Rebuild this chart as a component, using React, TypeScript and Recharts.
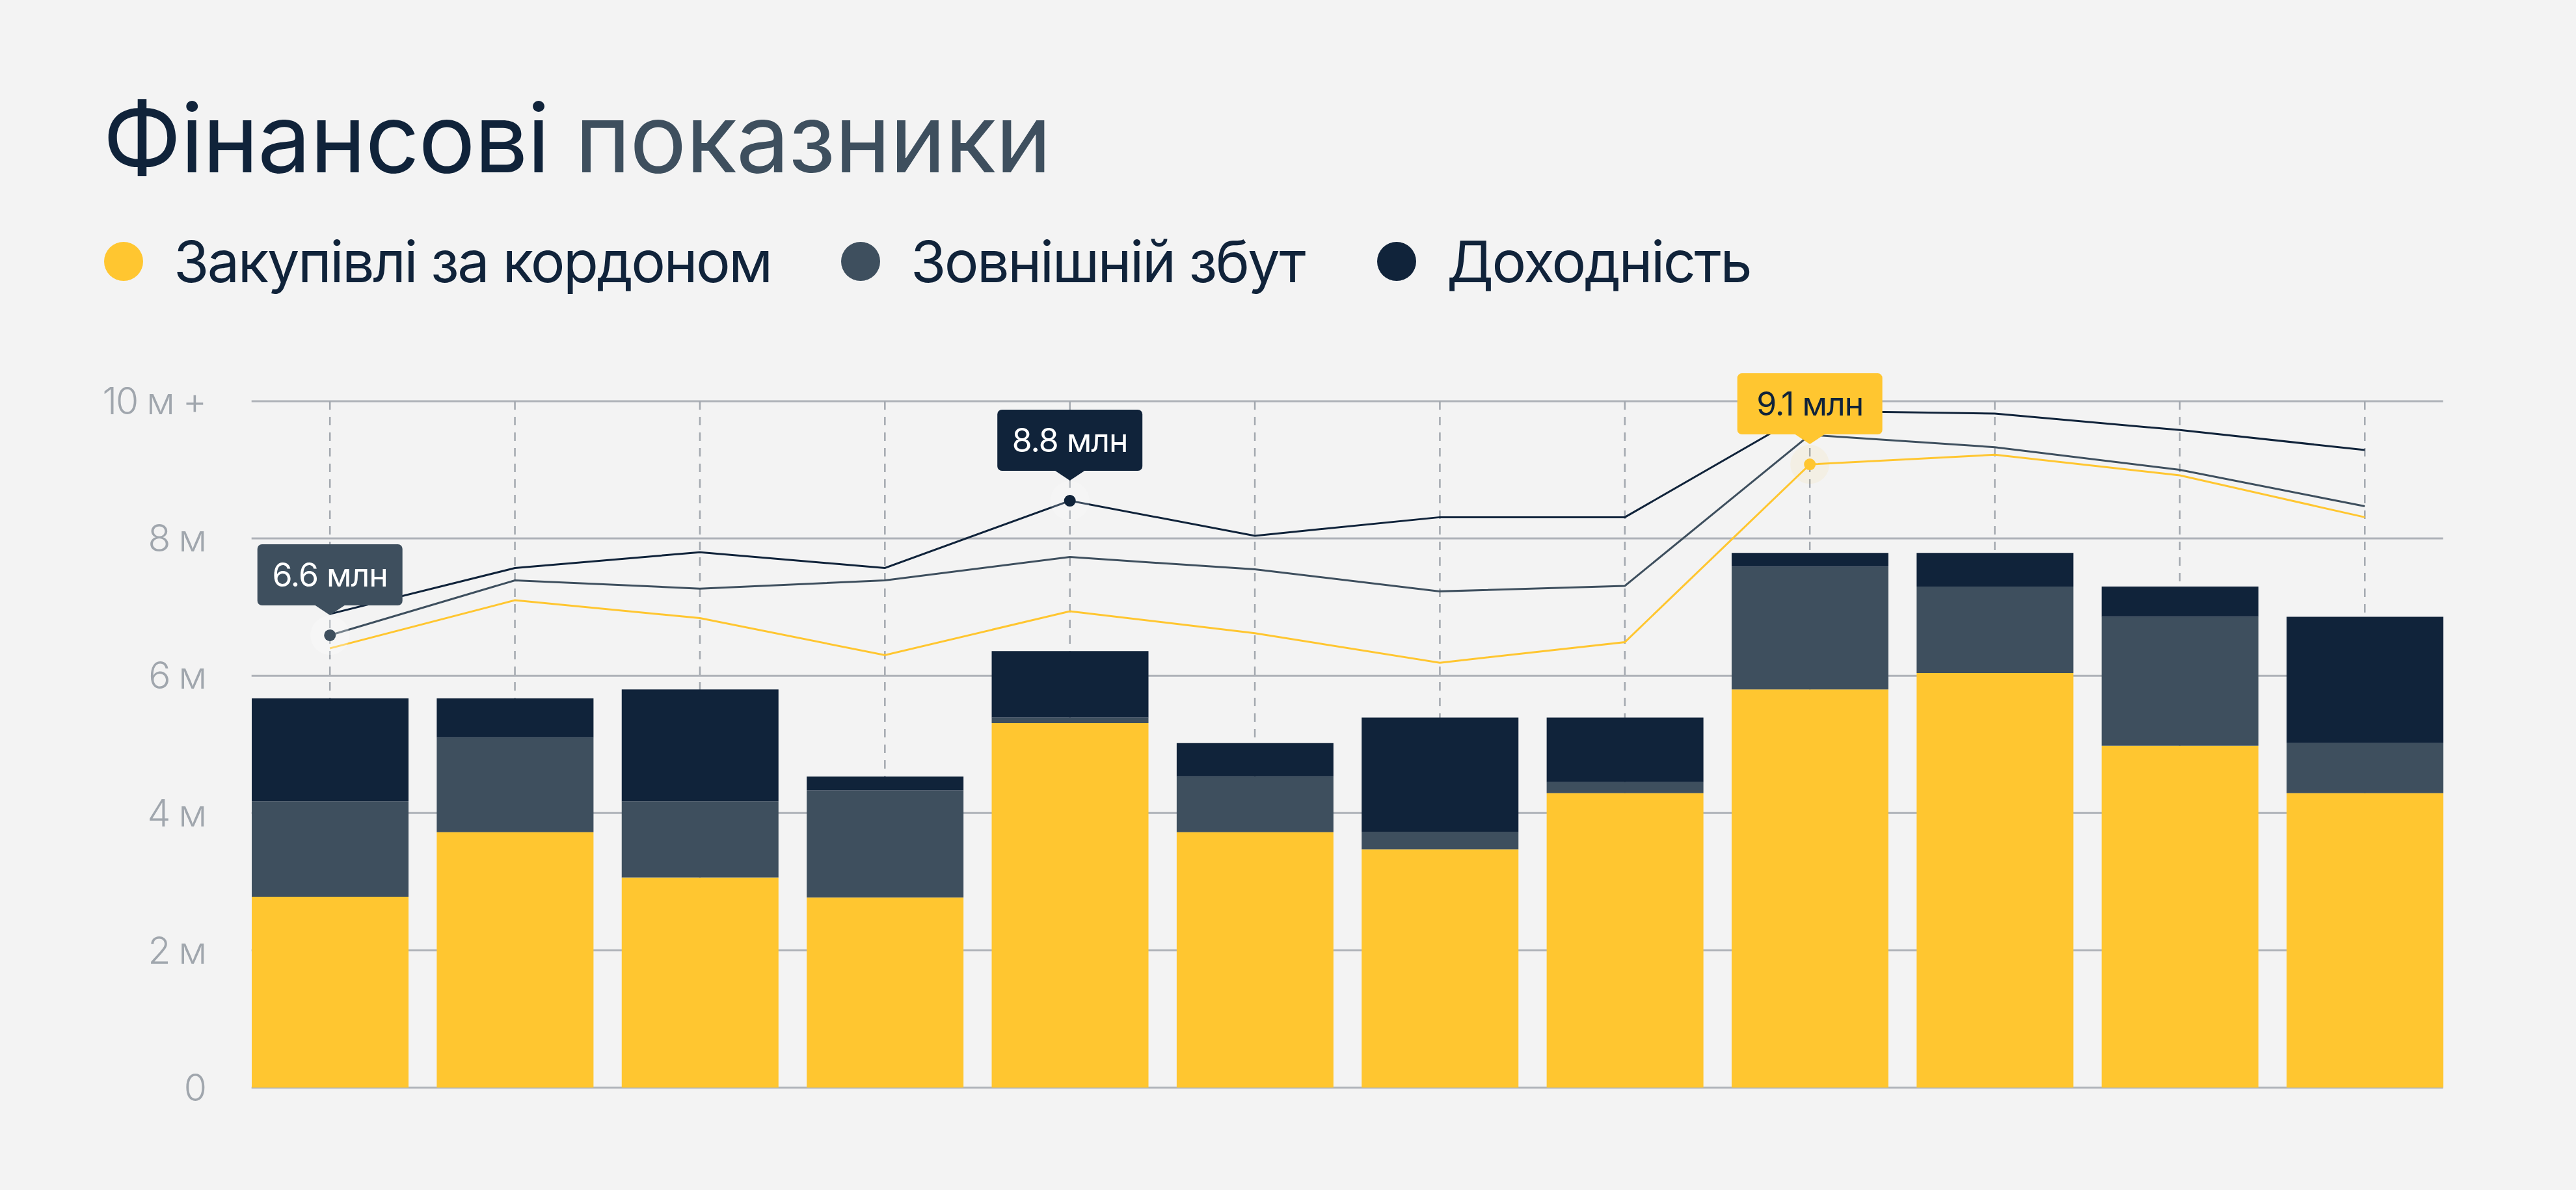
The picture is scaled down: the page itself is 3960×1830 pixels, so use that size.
import { Bar, CartesianGrid, ComposedChart, Line, XAxis, YAxis } from 'recharts';

// colours used across the chart
const YELLOW = '#ffc630';
const SLATE = '#3e4f5e';
const NAVY = '#10233a';
const GRID = '#aeb2b8';
const BG = '#f3f3f3';

const months = ['Січ', 'Лют', 'Бер', 'Кві', 'Тра', 'Чер', 'Лип', 'Сер', 'Вер', 'Жов', 'Лис', 'Гру'];

// stacked bar parts, млн
const purchases = [2.78, 3.72, 3.06, 2.77, 5.31, 3.72, 3.47, 4.29, 5.8, 6.04, 4.98, 4.29];
const sales = [1.39, 1.38, 1.11, 1.56, 0.08, 0.81, 0.25, 0.16, 1.79, 1.26, 1.88, 0.73];
const profit = [1.5, 0.57, 1.63, 0.2, 0.97, 0.49, 1.67, 0.94, 0.2, 0.49, 0.44, 1.84];

// trend lines, млн
const purchasesTrend = [6.4, 7.1, 6.84, 6.3, 6.94, 6.62, 6.19, 6.49, 9.08, 9.22, 8.92, 8.31];
const salesTrend = [6.59, 7.39, 7.27, 7.39, 7.73, 7.55, 7.23, 7.31, 9.51, 9.33, 9.0, 8.47];
const profitTrend = [6.9, 7.57, 7.8, 7.57, 8.55, 8.04, 8.31, 8.31, 9.86, 9.82, 9.58, 9.29];

const yTicks = [0, 2, 4, 6, 8, 10];
const yTickLabels = ['0', '2 м', '4 м', '6 м', '8 м', '10 м +'];

const legendNames = ['Закупівлі за кордоном', 'Зовнішній збут', 'Доходність'];
const calloutLabels = ['6.6 млн', '8.8 млн', '9.1 млн'];
const calloutIndex = [0, 4, 8];

const data = months.map((month, i) => ({
  month,
  purchases: purchases[i],
  sales: sales[i],
  profit: profit[i],
  purchasesTrend: purchasesTrend[i],
  salesTrend: salesTrend[i],
  profitTrend: profitTrend[i],
}));

const FONT = 'Inter, "Noto Sans", sans-serif';
const W = 3960;
const H = 1830;
const PLOT_LEFT = 365;
const PLOT_RIGHT = W - 182.5;
const Y_AXIS_W = 200;
const BAR_SIZE = 241;
const BAR_INSET = 21.7;

const makeDot = (index: number, color: string, textColor: string, label: string, halo: string) =>
  (p: any) => {
    const key = `dot-${p.index}`;
    if (p.index !== index) return <g key={key} />;
    const { cx, cy } = p;
    const boxW = 223;
    const boxH = 94;
    const boxBottom = cy - 46;
    return (
      <g key={key}>
        <circle cx={cx} cy={cy} r={30} fill={halo} />
        <circle cx={cx} cy={cy} r={9} fill={color} />
        <rect x={cx - boxW / 2} y={boxBottom - boxH} width={boxW} height={boxH} rx={7} fill={color} />
        <path d={`M${cx - 24},${boxBottom - 1} L${cx},${boxBottom + 15} L${cx + 24},${boxBottom - 1} Z`} fill={color} />
        <text
          x={cx}
          y={boxBottom - boxH / 2}
          textAnchor="middle"
          dominantBaseline="central"
          fill={textColor}
          fontSize={50}
          fontFamily={FONT}
          fontWeight={400}
          letterSpacing={-1}
        >
          {label}
        </text>
      </g>
    );
  };

const horizontalLine = (p: any) => (
  <line key={p.key} x1={p.x1 + BAR_INSET} x2={p.x2 - BAR_INSET} y1={p.y1} y2={p.y2} stroke={GRID} strokeWidth={3} />
);

// dashed guides only through the category centres, not on the plot edges
const verticalLine = (p: any) => {
  if (p.x1 < PLOT_LEFT + 5 || p.x1 > PLOT_RIGHT - 5) return <g key={p.key} />;
  return (
    <line
      key={p.key}
      x1={p.x1}
      x2={p.x2}
      y1={p.y1}
      y2={p.y2}
      stroke="#a3a8af"
      strokeWidth={2.5}
      strokeDasharray="13 11"
    />
  );
};

export default function App() {
  const legendColors = [YELLOW, SLATE, NAVY];
  const legendX = [190, 1323, 2147];
  return (
    <div style={{ position: 'relative', width: W, height: H, background: BG, overflow: 'hidden' }}>
      <style>{'body{margin:0}'}</style>
      <div style={{ position: 'absolute', left: 0, top: 0 }}>
        <ComposedChart
          width={W}
          height={H}
          data={data}
          margin={{ top: 617, right: W - PLOT_RIGHT, bottom: 157.5, left: PLOT_LEFT - Y_AXIS_W }}
        >
          <CartesianGrid vertical={false} horizontal={horizontalLine} />
          <CartesianGrid horizontal={false} vertical={verticalLine} />
          <XAxis dataKey="month" hide />
          <YAxis
            width={Y_AXIS_W}
            domain={[0, 10]}
            ticks={yTicks}
            axisLine={false}
            tickLine={false}
            tickSize={6}
            tickMargin={43}
            tickFormatter={(v: number) => yTickLabels[yTicks.indexOf(v)] ?? ''}
            tick={{ fill: '#a0a6ad', fontSize: 57, fontFamily: FONT, fontWeight: 300, letterSpacing: -2 }}
          />
          <Bar dataKey="purchases" stackId="a" fill={YELLOW} barSize={BAR_SIZE} isAnimationActive={false} />
          <Bar dataKey="sales" stackId="a" fill={SLATE} barSize={BAR_SIZE} isAnimationActive={false} />
          <Bar dataKey="profit" stackId="a" fill={NAVY} barSize={BAR_SIZE} isAnimationActive={false} />
          <Line
            type="linear"
            dataKey="profitTrend"
            stroke={NAVY}
            strokeWidth={3}
            dot={makeDot(calloutIndex[1], NAVY, '#ffffff', calloutLabels[1], 'rgba(255,255,255,0.2)')}
            activeDot={false}
            isAnimationActive={false}
          />
          <Line
            type="linear"
            dataKey="salesTrend"
            stroke={SLATE}
            strokeWidth={3}
            dot={makeDot(calloutIndex[0], SLATE, '#ffffff', calloutLabels[0], 'rgba(255,255,255,0.3)')}
            activeDot={false}
            isAnimationActive={false}
          />
          <Line
            type="linear"
            dataKey="purchasesTrend"
            stroke={YELLOW}
            strokeWidth={3}
            dot={makeDot(calloutIndex[2], YELLOW, NAVY, calloutLabels[2], 'rgba(255,198,48,0.07)')}
            activeDot={false}
            isAnimationActive={false}
          />
        </ComposedChart>
      </div>
      <svg width={W} height={500} style={{ position: 'absolute', left: 0, top: 0, pointerEvents: 'none' }}>
        <text x={158} y={265} fontSize={146} fontFamily={FONT} fontWeight={400} letterSpacing={-1.5}>
          <tspan fill={NAVY}>Фінансові </tspan>
          <tspan fill={SLATE}>показники</tspan>
        </text>
        {legendNames.map((name, i) => (
          <g key={name}>
            <circle cx={legendX[i]} cy={402} r={30} fill={legendColors[i]} />
            <text x={legendX[i] + 77} y={434} fontSize={88} fontFamily={FONT} fill={NAVY} letterSpacing={-2.5}>
              {name}
            </text>
          </g>
        ))}
      </svg>
    </div>
  );
}
